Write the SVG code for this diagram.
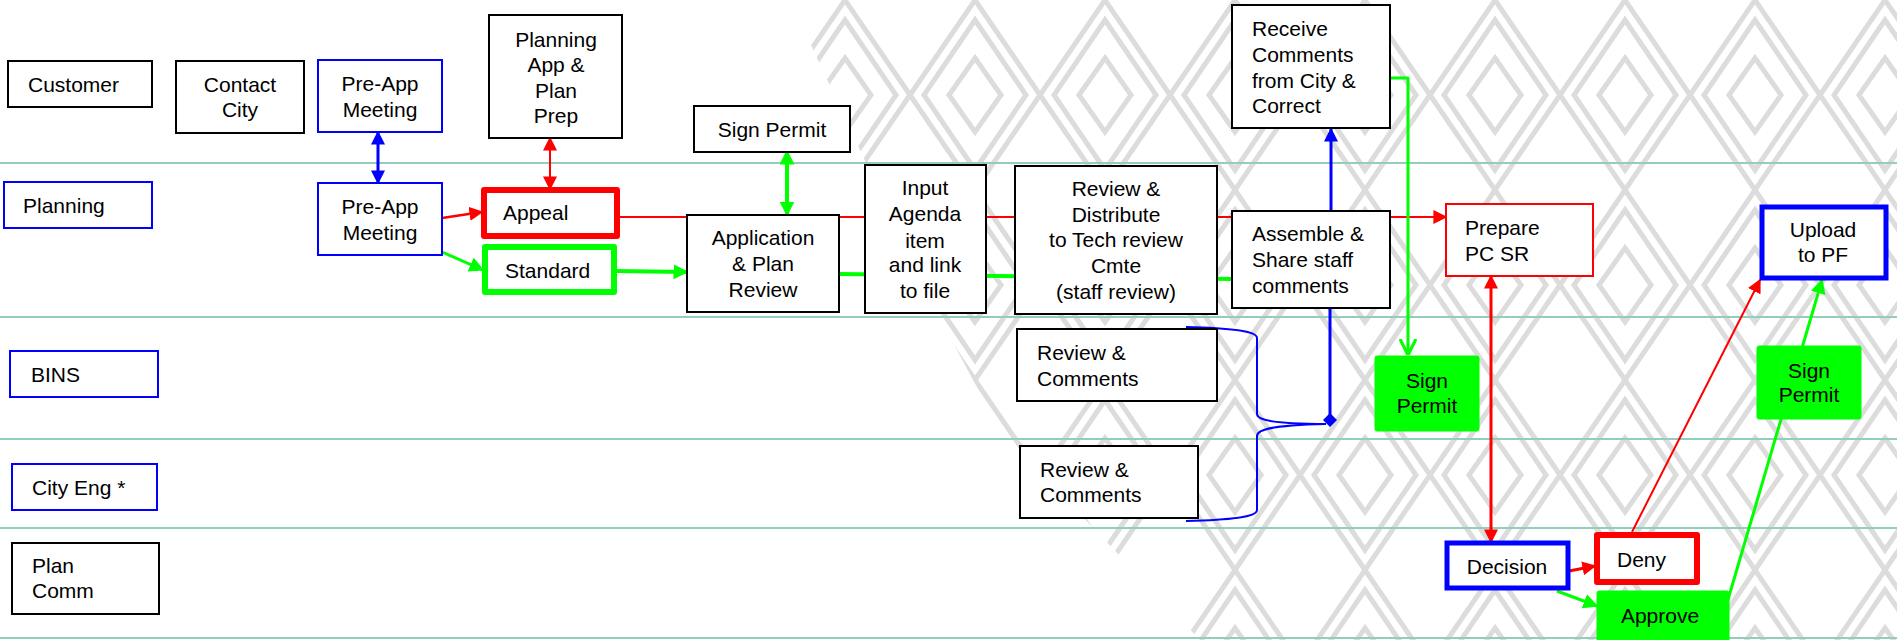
<svg xmlns="http://www.w3.org/2000/svg" width="1897" height="640" viewBox="0 0 1897 640">
<defs>
<style>
text{font-family:"Liberation Sans",Arial,sans-serif;font-size:21px;fill:#000}
.c{text-anchor:middle}
.bk{fill:#fff;stroke:#000;stroke-width:2}
.bl{fill:#fff;stroke:#00f;stroke-width:2}
.blT{fill:#fff;stroke:#00f;stroke-width:5}
.rd{fill:#fff;stroke:#f00;stroke-width:2}
.rdT{fill:#fff;stroke:#f00;stroke-width:6;stroke-linejoin:round}
.gnT{fill:#fff;stroke:#0f0;stroke-width:6;stroke-linejoin:round}
.gf{fill:#0f0;stroke:#0f0;stroke-width:1}
.lane{stroke:#92cdbe;stroke-width:2}
.r{stroke:#f00;fill:none}
.g{stroke:#0f0;fill:none}
.b{stroke:#00f;fill:none}
.pat{fill:none;stroke:#dcdcdc;stroke-width:5}
</style>
<marker id="aR" viewBox="0 0 10 10" refX="9" refY="5" markerWidth="14" markerHeight="14" markerUnits="userSpaceOnUse" orient="auto-start-reverse"><path d="M0,0 L10,5 L0,10 z" fill="#f00"/></marker>
<marker id="aG" viewBox="0 0 10 10" refX="9" refY="5" markerWidth="15" markerHeight="15" markerUnits="userSpaceOnUse" orient="auto-start-reverse"><path d="M0,0 L10,5 L0,10 z" fill="#0f0"/></marker>
<marker id="aB" viewBox="0 0 10 10" refX="9" refY="5" markerWidth="14" markerHeight="14" markerUnits="userSpaceOnUse" orient="auto-start-reverse"><path d="M0,0 L10,5 L0,10 z" fill="#00f"/></marker>
<marker id="aGo" viewBox="0 0 10 10" refX="10" refY="5" markerWidth="16" markerHeight="18" markerUnits="userSpaceOnUse" orient="auto"><path d="M0,0 L10,5 L0,10" fill="none" stroke="#0f0" stroke-width="2"/></marker>
<marker id="dB" viewBox="0 0 10 10" refX="5" refY="5" markerWidth="14" markerHeight="14" markerUnits="userSpaceOnUse" orient="auto"><path d="M0,5 L5,0 L10,5 L5,10 z" fill="#00f"/></marker>
<pattern id="zig" x="0" y="0" width="130" height="190" patternUnits="userSpaceOnUse">
<path class="pat" d="M65,0 L130,95 L65,190 L0,95 Z"/>
<path class="pat" d="M65,20 L116,95 L65,170 L14,95 Z"/>
<path class="pat" d="M65,58 L91,95 L65,132 L39,95 Z"/>
</pattern>
<clipPath id="patClip"><polygon points="790,0 1897,0 1897,640 1200,640 1000,430 930,300"/></clipPath>
</defs>
<rect width="1897" height="640" fill="#fff"/>
<rect width="1897" height="640" fill="url(#zig)" clip-path="url(#patClip)"/>
<g id="lanes">
<line class="lane" x1="0" y1="163" x2="1897" y2="163"/>
<line class="lane" x1="0" y1="317" x2="1897" y2="317"/>
<line class="lane" x1="0" y1="439" x2="1897" y2="439"/>
<line class="lane" x1="0" y1="528" x2="1897" y2="528"/>
<line class="lane" x1="0" y1="638" x2="1897" y2="638"/>
</g>
<g id="connectors">
<line class="b" stroke-width="3" x1="378" y1="132" x2="378" y2="183" marker-start="url(#aB)" marker-end="url(#aB)"/>
<line class="r" stroke-width="2" x1="550" y1="138" x2="550" y2="189" marker-start="url(#aR)" marker-end="url(#aR)"/>
<line class="r" stroke-width="2.5" x1="442" y1="218" x2="482" y2="212" marker-end="url(#aR)"/>
<line class="g" stroke-width="3" x1="442" y1="252" x2="483" y2="270" marker-end="url(#aG)"/>
<line class="r" stroke-width="2" x1="618" y1="217" x2="1446" y2="217" marker-end="url(#aR)"/>
<line class="g" stroke-width="4" x1="615" y1="271" x2="687" y2="272" marker-end="url(#aG)"/>
<line class="g" stroke-width="4" x1="839" y1="274" x2="1232" y2="279"/>
<line class="g" stroke-width="4" x1="787" y1="151" x2="787" y2="215" marker-start="url(#aG)" marker-end="url(#aG)"/>
<line class="b" stroke-width="3" x1="1331" y1="211" x2="1331" y2="129" marker-end="url(#aB)"/>
<line class="b" stroke-width="3" x1="1330" y1="308" x2="1330" y2="420" marker-end="url(#dB)"/>
<path class="b" stroke-width="2" d="M1186,327 C1230,328 1257,331 1257,338 L1257,414 C1257,421 1280,424 1326,424"/>
<path class="b" stroke-width="2" d="M1326,424 C1280,425 1257,428 1257,436 L1257,510 C1257,517 1230,520 1186,521"/>
<polyline class="g" stroke-width="3" stroke-linejoin="round" points="1390,78 1408,78 1408,355" marker-end="url(#aGo)"/>
<line class="r" stroke-width="3" x1="1491" y1="276" x2="1491" y2="542" marker-start="url(#aR)" marker-end="url(#aR)"/>
<line class="r" stroke-width="3" x1="1569" y1="571" x2="1595" y2="566" marker-end="url(#aR)"/>
<line class="g" stroke-width="3" x1="1557" y1="591" x2="1597" y2="606" marker-end="url(#aG)"/>
<line class="r" stroke-width="2" x1="1632" y1="532" x2="1760" y2="280" marker-end="url(#aR)"/>
<line class="g" stroke-width="3" x1="1727" y1="603" x2="1822" y2="280" marker-end="url(#aG)"/>
</g>
<g id="lane-customer"><rect class="bk" x="8" y="61" width="144" height="46"/><text x="28" y="92">Customer</text></g>
<g id="lane-planning"><rect class="bl" x="4" y="182" width="148" height="46"/><text x="23" y="213">Planning</text></g>
<g id="lane-bins"><rect class="bl" x="10" y="351" width="148" height="46"/><text x="31" y="382">BINS</text></g>
<g id="lane-cityeng"><rect class="bl" x="12" y="464" width="145" height="46"/><text x="32" y="495">City Eng *</text></g>
<g id="lane-plancomm"><rect class="bk" x="12" y="543" width="147" height="71"/><text x="32" y="573">Plan</text><text x="32" y="598">Comm</text></g>
<g id="contact-city"><rect class="bk" x="176" y="61" width="128" height="72"/><text class="c" x="240" y="92">Contact</text><text class="c" x="240" y="117">City</text></g>
<g id="preapp-customer"><rect class="bl" x="318" y="60" width="124" height="72"/><text class="c" x="380" y="91">Pre-App</text><text class="c" x="380" y="117">Meeting</text></g>
<g id="planning-app-prep"><rect class="bk" x="489" y="15" width="133" height="123"/><text class="c" x="556" y="47">Planning</text><text class="c" x="556" y="72">App &amp;</text><text class="c" x="556" y="98">Plan</text><text class="c" x="556" y="123">Prep</text></g>
<g id="preapp-planning"><rect class="bl" x="318" y="183" width="124" height="72"/><text class="c" x="380" y="214">Pre-App</text><text class="c" x="380" y="240">Meeting</text></g>
<g id="appeal"><rect class="rdT" x="484" y="190" width="133" height="46"/><text x="503" y="220">Appeal</text></g>
<g id="standard"><rect class="gnT" x="485" y="247" width="129" height="45"/><text x="505" y="278">Standard</text></g>
<g id="sign-permit-1"><rect class="bk" x="694" y="106" width="156" height="46"/><text class="c" x="772" y="137">Sign Permit</text></g>
<g id="app-plan-review"><rect class="bk" x="687" y="215" width="152" height="97"/><text class="c" x="763" y="245">Application</text><text class="c" x="763" y="271">&amp; Plan</text><text class="c" x="763" y="297">Review</text></g>
<g id="input-agenda"><rect class="bk" x="865" y="165" width="121" height="148"/><text class="c" x="925" y="195">Input</text><text class="c" x="925" y="221">Agenda</text><text class="c" x="925" y="248">item</text><text class="c" x="925" y="272">and link</text><text class="c" x="925" y="298">to file</text></g>
<g id="review-distribute"><rect class="bk" x="1015" y="166" width="202" height="148"/><text class="c" x="1116" y="196">Review &amp;</text><text class="c" x="1116" y="222">Distribute</text><text class="c" x="1116" y="247">to Tech review</text><text class="c" x="1116" y="273">Cmte</text><text class="c" x="1116" y="299">(staff review)</text></g>
<g id="receive-comments"><rect class="bk" x="1232" y="5" width="158" height="123"/><text x="1252" y="36">Receive</text><text x="1252" y="62">Comments</text><text x="1252" y="88">from City &amp;</text><text x="1252" y="113">Correct</text></g>
<g id="assemble-share"><rect class="bk" x="1232" y="211" width="158" height="97"/><text x="1252" y="241">Assemble &amp;</text><text x="1252" y="267">Share staff</text><text x="1252" y="293">comments</text></g>
<g id="review-comments-bins"><rect class="bk" x="1017" y="329" width="200" height="72"/><text x="1037" y="360">Review &amp;</text><text x="1037" y="386">Comments</text></g>
<g id="review-comments-cityeng"><rect class="bk" x="1020" y="446" width="178" height="72"/><text x="1040" y="477">Review &amp;</text><text x="1040" y="502">Comments</text></g>
<g id="sign-permit-2"><rect class="gf" x="1375" y="356" width="104" height="75" rx="2"/><text class="c" x="1427" y="388">Sign</text><text class="c" x="1427" y="413">Permit</text></g>
<g id="prepare-pcsr"><rect class="rd" x="1446" y="204" width="147" height="72"/><text x="1465" y="235">Prepare</text><text x="1465" y="261">PC SR</text></g>
<g id="upload-pf"><rect class="blT" x="1762" y="207" width="124" height="71"/><text class="c" x="1823" y="237">Upload</text><text class="c" x="1823" y="262">to PF</text></g>
<g id="sign-permit-3"><rect class="gf" x="1757" y="346" width="104" height="73" rx="2"/><text class="c" x="1809" y="378">Sign</text><text class="c" x="1809" y="402">Permit</text></g>
<g id="decision"><rect class="blT" x="1447" y="543" width="121" height="45"/><text class="c" x="1507" y="574">Decision</text></g>
<g id="deny"><rect class="rdT" x="1597" y="535" width="100" height="47"/><text x="1617" y="567">Deny</text></g>
<g id="approve"><rect class="gf" x="1597" y="591" width="132" height="52" rx="2"/><text class="c" x="1660" y="623">Approve</text></g>
</svg>
